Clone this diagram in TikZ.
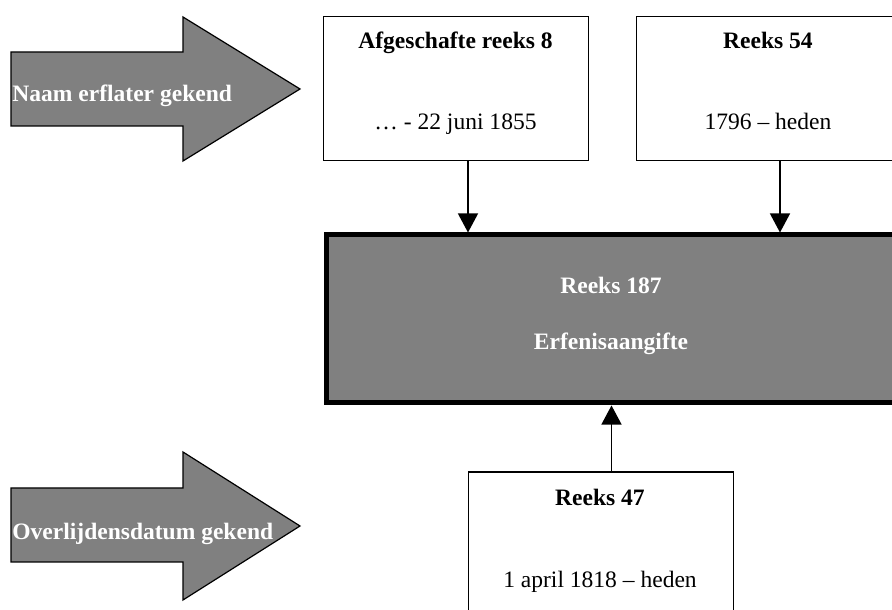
\documentclass[tikz,border=0pt]{standalone}
\usepackage{fontspec}
\setmainfont{Liberation Serif}
\usetikzlibrary{arrows.meta}
\newlength\px
\setlength\px{0.51pt}
\definecolor{grayfill}{HTML}{808080}
\begin{document}
\begin{tikzpicture}[x=0.51pt,y=-0.51pt,
  font=\fontsize{12pt}{14pt}\selectfont,
  wbox/.style={draw=black, line width=1.3\px, fill=white, inner sep=0pt, anchor=north west},
  bigbox/.style={draw=black, line width=5\px, fill=grayfill, inner sep=0pt, anchor=north west},
  bigarrow/.style={draw=black, line width=1.2\px, fill=grayfill},
  conn/.style={line width=1.3\px, -{Triangle[width=10.2pt,length=9.7pt]}},
  ttl/.style={anchor=base, font=\fontsize{12pt}{14pt}\selectfont\bfseries},
  sub/.style={anchor=base},
  wtxt/.style={anchor=base, text=white, font=\fontsize{12pt}{14pt}\selectfont\bfseries},
  wlbl/.style={anchor=base west, inner sep=0pt, text=white, font=\fontsize{12pt}{14pt}\selectfont\bfseries}]
\useasboundingbox (0,0) rectangle (892,610);
\clip (0,0) rectangle (892,610);

% big grey arrows
\draw[bigarrow] (11,52) -- (183,52) -- (183,17) -- (300,89) -- (183,161) -- (183,126) -- (11,126) -- cycle;
\node[wlbl] (lbl1) at (12,102) {Naam erflater gekend};
\draw[bigarrow] (11,488) -- (183,488) -- (183,452) -- (300,526) -- (183,600) -- (183,562) -- (11,562) -- cycle;
\node[wlbl] (lbl2) at (12,540) {Overlijdensdatum gekend};

% boxes
\node[wbox, minimum width=265\px, minimum height=144\px] (b8) at (323,16) {};
\node[ttl] (b8t) at (455.5,49) {Afgeschafte reeks 8};
\node[sub] (b8s) at (455.5,130) {… - 22 juni 1855};

\node[wbox, minimum width=270\px, minimum height=144\px] (b54) at (636,16) {};
\node[ttl] (b54t) at (768,49) {Reeks 54};
\node[sub] (b54s) at (768,130) {1796 – heden};

\node[bigbox, minimum width=590\px, minimum height=168\px] (big) at (323.5,232.5) {};
\node[wtxt] (bigt) at (611,294) {Reeks 187};
\node[wtxt] (bigs) at (611,350) {Erfenisaangifte};

\node[wbox, minimum width=265\px, minimum height=170\px] (b47) at (467.5,471.5) {};
\node[ttl] (b47t) at (600,506) {Reeks 47};
\node[sub] (b47s) at (600,588) {1 april 1818 – heden};

% connectors
\coordinate (x1) at (468,0);
\coordinate (x2) at (780,0);
\coordinate (x3) at (611.5,0);
\draw[conn] (b8.south -| x1) -- (big.north -| x1);
\draw[conn] (b54.south -| x2) -- (big.north -| x2);
\draw[conn] (b47.north -| x3) -- (big.south -| x3);
\end{tikzpicture}
\end{document}
